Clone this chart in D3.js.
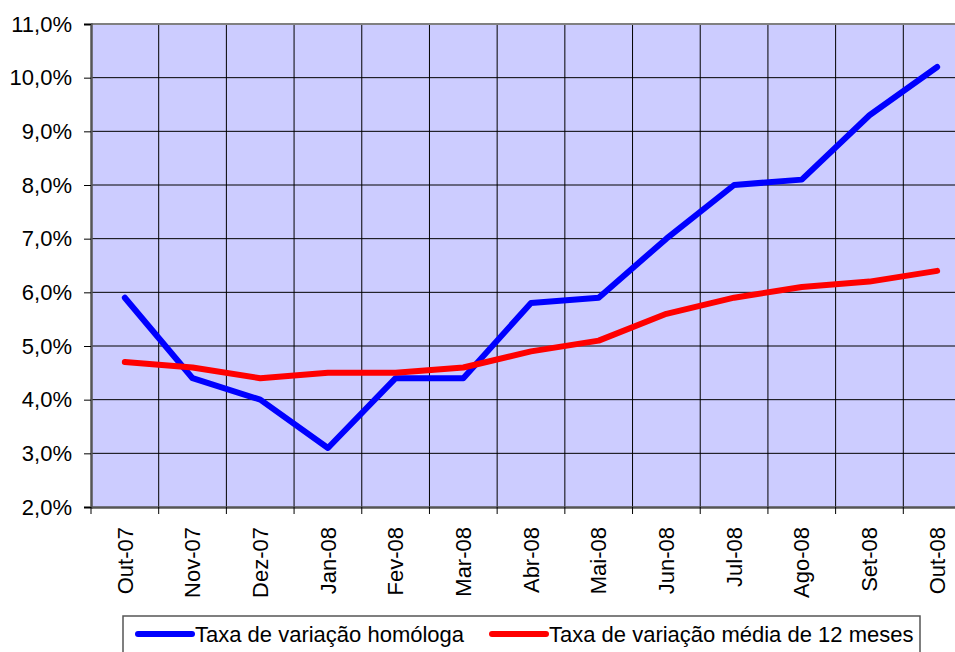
<!DOCTYPE html>
<html>
<head>
<meta charset="utf-8">
<script src="https://cdn.jsdelivr.net/npm/d3@7"></script>
<style>
  body { margin: 0; background: #fff; }
  svg { display: block; font-family: "Liberation Sans", Arial, sans-serif; }
</style>
</head>
<body>
<div id="vis"></div>
<script>
const WIDTH = 955;
const HEIGHT = 652;

// Dados ------------------------------------------------------------------
const meses = ["Out-07", "Nov-07", "Dez-07", "Jan-08", "Fev-08", "Mar-08", "Abr-08",
               "Mai-08", "Jun-08", "Jul-08", "Ago-08", "Set-08", "Out-08"];
const homologa = [5.9, 4.4, 4.0, 3.1, 4.4, 4.4, 5.8, 5.9, 7.0, 8.0, 8.1, 9.3, 10.2];
const media12 = [4.7, 4.6, 4.4, 4.5, 4.5, 4.6, 4.9, 5.1, 5.6, 5.9, 6.1, 6.2, 6.4];
const yTicks = [2, 3, 4, 5, 6, 7, 8, 9, 10, 11];
const series = [
  { nome: "Taxa de variação homóloga", valores: homologa, cor: "#0000ff" },
  { nome: "Taxa de variação média de 12 meses", valores: media12, cor: "#ff0000" }
];

const SVG = d3.select("#vis").append("svg")
  .attr("width", WIDTH).attr("height", HEIGHT);

// Área do gráfico (o lado direito sai fora da imagem, como no original)
const plot = { left: 91, top: 24, right: 971, bottom: 507 };

const x = d3.scaleBand().domain(meses).range([plot.left, plot.right]).padding(0);
const y = d3.scaleLinear().domain([2, 11]).range([plot.bottom, plot.top]);

SVG.append("rect")
  .attr("x", plot.left).attr("y", plot.top)
  .attr("width", plot.right - plot.left).attr("height", plot.bottom - plot.top)
  .attr("fill", "#ccccff");

// grelha horizontal
SVG.selectAll("line.gridY")
  .data(yTicks.slice(1, -1))
  .enter().append("line")
  .attr("class", "gridY")
  .attr("x1", plot.left).attr("x2", plot.right)
  .attr("y1", d => y(d)).attr("y2", d => y(d))
  .attr("stroke", "#000").attr("stroke-width", 1);

// grelha vertical (limites das categorias)
SVG.selectAll("line.gridX")
  .data(meses.slice(1))
  .enter().append("line")
  .attr("class", "gridX")
  .attr("x1", d => x(d)).attr("x2", d => x(d))
  .attr("y1", plot.top).attr("y2", plot.bottom)
  .attr("stroke", "#000").attr("stroke-width", 1);

// borda superior
SVG.append("line")
  .attr("x1", plot.left).attr("x2", plot.right)
  .attr("y1", plot.top).attr("y2", plot.top)
  .attr("stroke", "#808080").attr("stroke-width", 2);

// eixo Y
const yAxis = SVG.append("g")
  .attr("transform", `translate(${plot.left},0)`)
  .call(d3.axisLeft(y).tickValues(yTicks).tickSize(7).tickPadding(12)
    .tickFormat(d => d3.format(".1f")(d).replace(".", ",") + "%"));
yAxis.select(".domain").attr("stroke", "#555").attr("stroke-width", 2.5);
yAxis.selectAll(".tick line").attr("stroke", "#000");
yAxis.selectAll(".tick text").attr("font-size", 22).attr("fill", "#000")
  .attr("font-family", "Liberation Sans, Arial, sans-serif");

// eixo X
const xAxis = SVG.append("g")
  .attr("transform", `translate(0,${plot.bottom})`)
  .call(d3.axisBottom(x).tickSize(0).tickSizeOuter(0));
xAxis.select(".domain").attr("stroke", "#555").attr("stroke-width", 2.5);
xAxis.selectAll(".tick text")
  .attr("font-size", 22).attr("fill", "#000")
  .attr("font-family", "Liberation Sans, Arial, sans-serif")
  .attr("text-anchor", "end")
  .attr("transform", "rotate(-90)")
  .attr("x", -20).attr("y", 0).attr("dy", "0.35em");

// marcas do eixo X nos limites
SVG.selectAll("line.tickX")
  .data(meses)
  .enter().append("line")
  .attr("class", "tickX")
  .attr("x1", d => x(d)).attr("x2", d => x(d))
  .attr("y1", plot.bottom).attr("y2", plot.bottom + 7)
  .attr("stroke", "#000");

// linhas
const linha = d3.line()
  .x((d, i) => x(meses[i]) + x.bandwidth() / 2)
  .y(d => y(d));

SVG.selectAll("path.serie")
  .data(series)
  .enter().append("path")
  .attr("class", "serie")
  .attr("d", d => linha(d.valores))
  .attr("fill", "none")
  .attr("stroke", d => d.cor)
  .attr("stroke-width", 6)
  .attr("stroke-linejoin", "round")
  .attr("stroke-linecap", "round");

// legenda
const leg = SVG.append("g");
leg.append("rect")
  .attr("x", 123).attr("y", 616).attr("width", 797).attr("height", 50)
  .attr("fill", "#fff").attr("stroke", "#555").attr("stroke-width", 1.5);

const legX = [138, 492];
series.forEach((s, i) => {
  leg.append("line")
    .attr("x1", legX[i]).attr("x2", legX[i] + 54)
    .attr("y1", 634).attr("y2", 634)
    .attr("stroke", s.cor).attr("stroke-width", 6).attr("stroke-linecap", "round");
  leg.append("text")
    .attr("x", legX[i] + 57).attr("y", 642)
    .attr("font-size", 22).attr("fill", "#000")
    .text(s.nome);
});
</script>
</body>
</html>
